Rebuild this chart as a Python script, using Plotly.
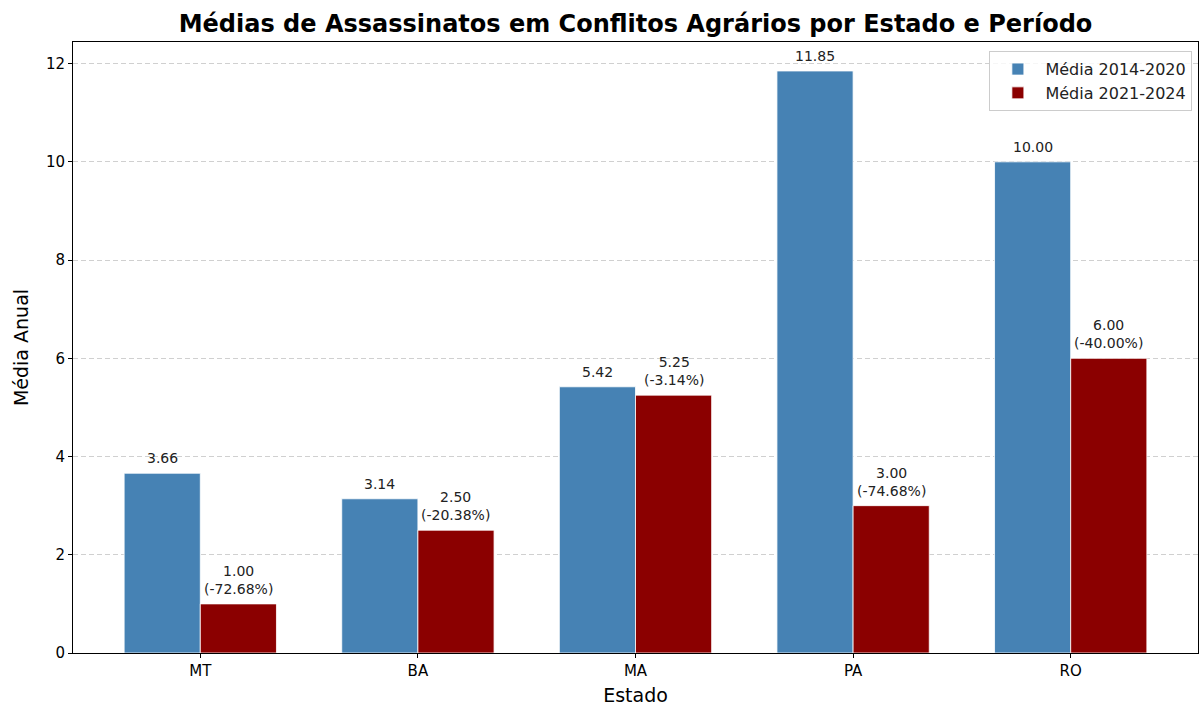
import plotly.graph_objects as go

# dados
estados = ["MT", "BA", "MA", "PA", "RO"]
media_2014_2020 = [3.66, 3.14, 5.42, 11.85, 10.00]
media_2021_2024 = [1.00, 2.50, 5.25, 3.00, 6.00]

variacao = [(b - a) / a * 100 for a, b in zip(media_2014_2020, media_2021_2024)]
txt_antes = [f"{v:.2f}" for v in media_2014_2020]
txt_depois = [f"{v:.2f}<br>({p:.2f}%)" for v, p in zip(media_2021_2024, variacao)]

fonte = "DejaVu Sans"

fig = go.Figure()
fig.add_trace(go.Bar(
    x=estados, y=media_2014_2020, name="Média 2014-2020",
    marker=dict(color="#4682b4", line=dict(color="white", width=0.8)),
))
fig.add_trace(go.Bar(
    x=estados, y=media_2021_2024, name="Média 2021-2024",
    marker=dict(color="#8b0000", line=dict(color="white", width=0.8)),
))

# rótulos acima das barras
meia_barra = 38  # px, metade da largura de cada barra
for est, v, t in zip(estados, media_2014_2020, txt_antes):
    fig.add_annotation(x=est, y=v, text=t, xshift=-meia_barra, yshift=5,
                       yanchor="bottom", showarrow=False,
                       font=dict(size=14, color="#222222"))
for est, v, t in zip(estados, media_2021_2024, txt_depois):
    fig.add_annotation(x=est, y=v, text=t, xshift=meia_barra, yshift=5,
                       yanchor="bottom", showarrow=False,
                       font=dict(size=14, color="#222222"))

fig.update_layout(
    width=1200, height=706,
    paper_bgcolor="white", plot_bgcolor="white",
    font=dict(family=fonte, color="black", size=15),
    barmode="group", bargap=0.3, bargroupgap=0,
    margin=dict(l=73, r=2, t=42, b=53),
    title=dict(
        text="<b>Médias de Assassinatos em Conflitos Agrários por Estado e Período</b>",
        x=0.5, xref="paper", xanchor="center", y=0.967, yanchor="middle",
        font=dict(size=24, family=fonte),
    ),
    legend=dict(
        x=0.995, y=0.985, xanchor="right", yanchor="top",
        bgcolor="rgba(255,255,255,0.8)", bordercolor="#cccccc", borderwidth=1,
        font=dict(size=16, color="#222222"), itemwidth=45,
    ),
)

fig.update_xaxes(
    range=[-0.585, 4.585], automargin=False,
    showline=True, linecolor="black", linewidth=1, mirror=True,
    ticks="outside", ticklen=4, tickcolor="black",
    showgrid=False,
    title=dict(text="Estado", font=dict(size=19), standoff=13),
)
fig.update_yaxes(
    range=[0, 12.44], dtick=2, automargin=False,
    showline=True, linecolor="black", linewidth=1, mirror=True,
    ticks="outside", ticklen=4, tickcolor="black",
    showgrid=True, gridcolor="rgba(176,176,176,0.6)", griddash="5px,3px", gridwidth=1,
    zeroline=False,
    title=dict(text="Média Anual", font=dict(size=19), standoff=12),
)

fig.write_html("out.html", config={"displayModeBar": False},
               post_script="document.body.style.margin='0';")
